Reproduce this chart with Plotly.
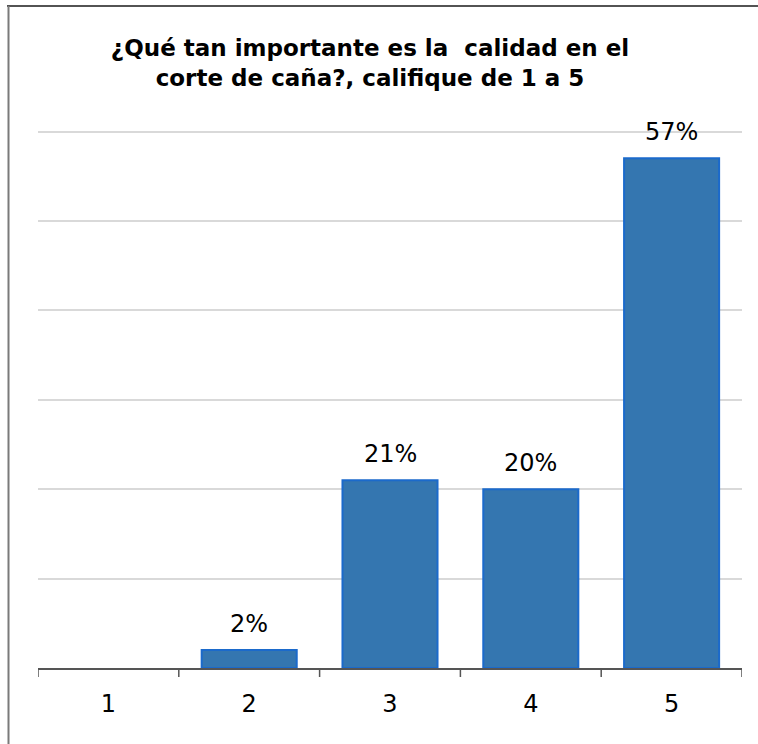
import plotly.graph_objects as go

# Survey results: importance of quality in cane cutting, rated 1 to 5
ratings = ["1", "2", "3", "4", "5"]
shares = [0, 2, 21, 20, 57]          # percent of respondents
title_text = "¿Qué tan importante es la&nbsp; calidad en el<br>corte de caña?, califique de 1 a 5"

W, H = 758, 744
ML, MR, MT, MB = 38, 16, 130, 76
PW, PH = W - ML - MR, H - MT - MB

bar_fill = "#3476b0"
bar_edge = "#1b6acb"
font_main = "DejaVu Sans"

fig = go.Figure()
fig.add_trace(go.Bar(
    x=list(range(len(ratings))),
    y=shares,
    marker=dict(color=bar_fill,
                line=dict(color=bar_edge, width=[0 if v == 0 else 2 for v in shares])),
    hoverinfo="skip",
))

# value labels above each non-zero bar
for i, v in enumerate(shares):
    if v > 0:
        fig.add_annotation(
            x=i, y=v, text=f"{v}%", showarrow=False,
            xref="x", yref="y", yanchor="bottom", yshift=10,
            font=dict(family=font_main, size=24, color="#000000"),
        )

# outer frame (top and left edges)
def px_x(p):
    return (p - ML) / PW

def px_y(p):
    return (H - MB - p) / PH

fig.add_shape(type="line", xref="paper", yref="paper",
              x0=px_x(7), x1=px_x(W + 5), y0=px_y(6), y1=px_y(6),
              line=dict(color="#1a1a1a", width=1.5))
fig.add_shape(type="line", xref="paper", yref="paper",
              x0=px_x(8.5), x1=px_x(8.5), y0=px_y(6), y1=px_y(H + 5),
              line=dict(color="#7a7a7a", width=2))

fig.update_layout(
    width=W, height=H,
    margin=dict(l=ML, r=MR, t=MT, b=MB),
    paper_bgcolor="white", plot_bgcolor="white",
    showlegend=False,
    bargap=0.325,
    title=dict(
        text=title_text,
        x=370 / W, xanchor="center", xref="container",
        y=1 - 56 / H, yanchor="top", yref="container",
        font=dict(family=font_main, size=23, color="#000000", weight="bold"),
    ),
    xaxis=dict(
        type="linear",
        range=[-0.5, len(ratings) - 0.5],
        tickmode="array",
        tickvals=list(range(len(ratings))),
        ticktext=ratings,
        ticks="",
        showline=True, linecolor="#555555", linewidth=1.5,
        showgrid=False, zeroline=False,
        tickfont=dict(family=font_main, size=24, color="#000000"),
        ticklabelstandoff=13,
    ),
    yaxis=dict(
        range=[0, 60.17], dtick=10,
        showticklabels=False, ticks="",
        showgrid=True, gridcolor="#d9d9d9", gridwidth=1.5,
        zeroline=False, showline=False,
    ),
)

# category boundary ticks below the axis
for b in [i - 0.5 for i in range(len(ratings) + 1)]:
    fig.add_shape(type="line", xref="x", yref="paper",
                  x0=b, x1=b, y0=0, y1=-9 / PH,
                  line=dict(color="#555555", width=1.5))

fig.write_html("out.html")
